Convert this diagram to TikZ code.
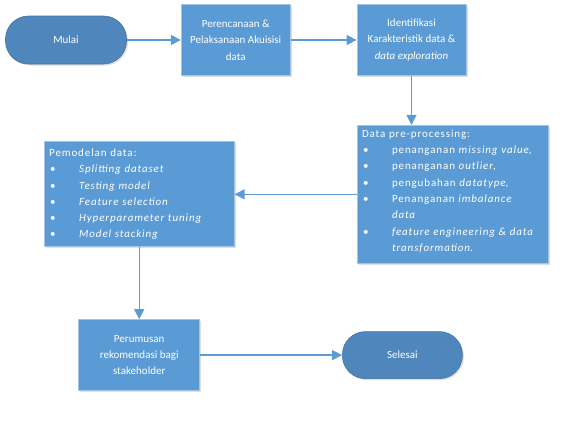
\documentclass[tikz,border=0pt]{standalone}
\usepackage{fontspec}
\setmainfont{Carlito}
\newfontfamily\listfont{Carlito}[LetterSpace=8]
\usepackage{tikz}
\usetikzlibrary{shapes,arrows.meta,positioning,shadows,calc}
\definecolor{boxblue}{HTML}{5B9BD5}
\definecolor{termblue}{HTML}{4F87BD}
\definecolor{boxline}{HTML}{A7C3E3}
\newcommand{\butir}[1]{\par\noindent\hangindent=30pt\hangafter=1\makebox[30pt][l]{\hspace{1pt}\textbullet}#1}

\begin{document}
\begin{tikzpicture}[
        x=1pt, y=1pt,
        font=\fontsize{11}{16.3}\selectfont,
        block/.style={rectangle, draw=boxline, line width=0.8pt, fill=boxblue, text=white, align=center, inner sep=2pt, drop shadow={opacity=0.25, shadow xshift=1.5pt, shadow yshift=-1.5pt}},
        listbox/.style={block, align=left, inner xsep=5pt, inner ysep=4pt, font=\listfont\fontsize{11}{16.3}\selectfont},
        terminal/.style={rectangle, rounded corners=23pt, draw=termblue!85!black, line width=0.6pt, fill=termblue, text=white, minimum width=121pt, minimum height=48pt, drop shadow={opacity=0.25, shadow xshift=1.5pt, shadow yshift=-1.5pt}},
        arrow/.style={draw=boxblue, line width=1.3pt, -{Triangle[length=10pt, width=10pt]}}
    ]
        \useasboundingbox (0,0) rectangle (575,-426);
        \node[terminal] (mulai) at (66,-40) {Mulai};
        \node[block, minimum width=109pt, minimum height=71pt, right=54pt of mulai] (akuisisi) {Perencanaan \&\\Pelaksanaan Akuisisi\\data};
        \node[block, minimum width=109pt, minimum height=71pt, right=66pt of akuisisi] (eksplorasi) {Identifikasi\\Karakteristik data \&\\\textit{data exploration}};
        \node[listbox, text width=181pt, minimum height=138pt, below=49pt of eksplorasi.south west, anchor=north west] (preproc) {Data pre-processing:
            \butir{penanganan \textit{missing value},}
            \butir{penanganan \textit{outlier},}
            \butir{pengubahan \textit{datatype},}
            \butir{Penanganan \textit{imbalance}\newline\textit{data}}
            \butir{\textit{feature engineering \& data}\newline\textit{transformation}.}\par\vspace{6pt}};
        \node[listbox, text width=180pt, minimum height=105pt, left=122pt of preproc] (model) {Pemodelan data:
            \butir{\textit{Splitting dataset}}
            \butir{\textit{Testing model}}
            \butir{\textit{Feature selection}}
            \butir{\textit{Hyperparameter tuning}}
            \butir{\textit{Model stacking}}};
        \node[block, minimum width=121pt, minimum height=71pt, below=72pt of model] (rumus) {Perumusan\\rekomendasi bagi\\stakeholder};
        \node[terminal, minimum width=120pt, minimum height=47pt, right=142pt of rumus] (selesai) {Selesai};

        \draw[arrow] (mulai) -- (akuisisi);
        \draw[arrow] (akuisisi) -- (eksplorasi);
        \draw[arrow] (eksplorasi.south) -- (eksplorasi.south |- preproc.north);
        \draw[arrow] (preproc) -- (model);
        \draw[arrow] (model) -- (rumus);
        \draw[arrow] (rumus) -- (selesai);
    \end{tikzpicture}
\end{document}
